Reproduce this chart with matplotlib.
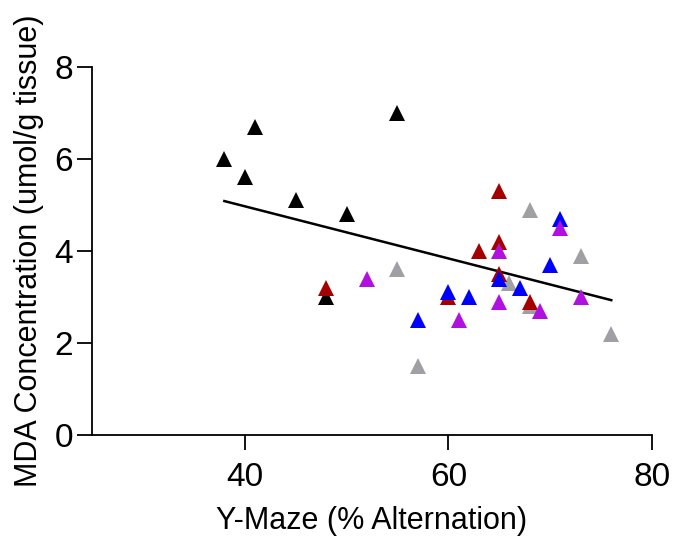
import numpy as np
import matplotlib
matplotlib.use("Agg")
import matplotlib.pyplot as plt

plt.rcParams['font.family'] = ['Liberation Sans', 'DejaVu Sans']

black_x = [38, 40, 41, 45, 50, 55, 48]
black_y = [6.0, 5.6, 6.7, 5.1, 4.8, 7.0, 3.0]
gray_x = [55, 57, 66, 68, 68, 73, 76]
gray_y = [3.6, 1.5, 3.3, 4.9, 2.8, 3.9, 2.2]
red_x = [48, 60, 63, 65, 65, 65, 68]
red_y = [3.2, 3.0, 4.0, 5.3, 4.2, 3.5, 2.9]
blue_x = [57, 60, 62, 65, 67, 70, 71]
blue_y = [2.5, 3.1, 3.0, 3.4, 3.2, 3.7, 4.7]
purple_x = [52, 61, 65, 65, 69, 71, 73]
purple_y = [3.4, 2.5, 4.0, 2.9, 2.7, 4.5, 3.0]

groups = [
    (black_x, black_y, '#000000'),
    (gray_x, gray_y, '#A0A0A4'),
    (red_x, red_y, '#A50000'),
    (blue_x, blue_y, '#0000FF'),
    (purple_x, purple_y, '#B010E0'),
]

fig = plt.figure(figsize=(6.73, 5.38), dpi=100)
ax = fig.add_axes([92/673, 1-435/538, (652-92)/673, (435-67)/538])

for gx, gy, c in groups:
    ax.plot(gx, gy, linestyle='none', marker='^', markersize=11.5,
            markeredgewidth=0, color=c, zorder=3)

all_x = np.concatenate([g[0] for g in groups]).astype(float)
all_y = np.concatenate([g[1] for g in groups]).astype(float)
m, b = np.polyfit(all_x, all_y, 1)
xs = np.array([all_x.min(), all_x.max()])
ax.plot(xs, m*xs + b, color='black', linewidth=1.8, zorder=2)

ax.set_xlim(25, 80)
ax.set_ylim(0, 8)
ax.set_xticks([40, 60, 80])
ax.set_yticks([0, 2, 4, 6, 8])
ax.spines['top'].set_visible(False)
ax.spines['right'].set_visible(False)
ax.spines['left'].set_linewidth(1.3)
ax.spines['bottom'].set_linewidth(1.3)
ax.tick_params(axis='both', direction='out', length=10.5, width=1.3, labelsize=24)
ax.tick_params(axis='x', pad=9)
ax.tick_params(axis='y', pad=3)
ax.set_xlabel('Y-Maze (% Alternation)', fontsize=22, labelpad=9)
ax.set_ylabel('MDA Concentration (umol/g tissue)', fontsize=22, labelpad=8)

fig.savefig('out.png', dpi=100)
